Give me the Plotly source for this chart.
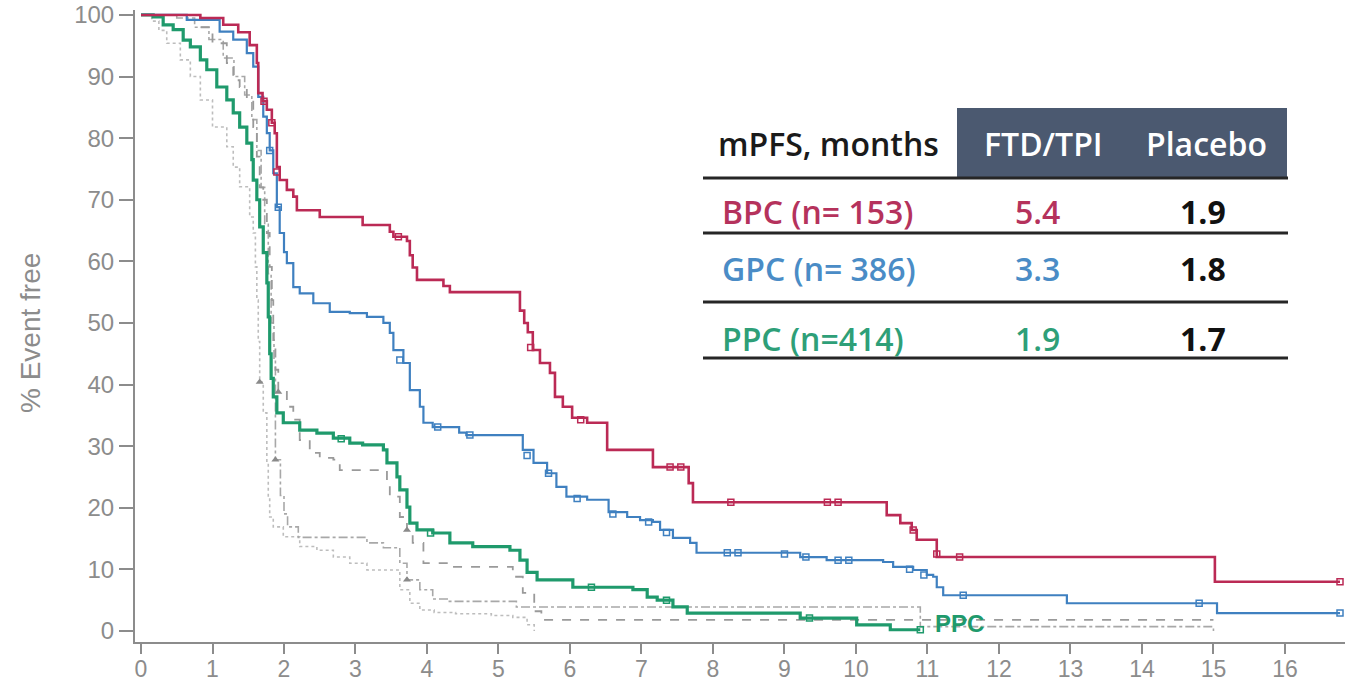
import plotly.graph_objects as go

# ---------------- data ----------------
months_ticks = list(range(0, 17))
pct_ticks = list(range(0, 101, 10))

# FTD/TPI curves (Kaplan-Meier steps: time, % event free)
bpc_t = [0, 0.83, 1.15, 1.36, 1.52, 1.62, 1.64, 1.70, 1.76, 1.83, 1.87, 1.90, 1.94, 2.04, 2.13, 2.18,
         2.50, 3.10, 3.48, 3.53, 3.72, 3.76, 3.80, 3.86, 4.23, 4.32, 5.30, 5.36, 5.41, 5.48, 5.58, 5.72,
         5.79, 5.90, 6.03, 6.24, 6.52, 7.16, 7.66, 7.72, 10.43, 10.62, 10.78, 10.85, 11.13, 15.02, 16.77]
bpc_s = [100, 99.5, 98.4, 97.2, 95.1, 92.2, 87.3, 86.0, 84.6, 82.5, 80.8, 75.3, 73.2, 71.6, 70.5, 68.3,
         67.2, 65.9, 64.8, 64.0, 63.3, 61.0, 59.0, 57.0, 56.0, 55.0, 52.0, 50.0, 48.5, 45.6, 43.5, 41.9,
         38.0, 36.4, 34.6, 33.8, 29.4, 26.6, 24.0, 20.9, 18.8, 17.5, 16.4, 14.8, 12.0, 8.0, 8.0]

gpc_t = [0, 0.64, 1.10, 1.29, 1.48, 1.57, 1.64, 1.71, 1.76, 1.80, 1.85, 1.90, 1.94, 2.00, 2.04, 2.13,
         2.22, 2.41, 2.64, 2.92, 3.16, 3.39, 3.48, 3.53, 3.67, 3.76, 3.90, 3.95, 4.08, 4.45, 4.55, 5.34,
         5.49, 5.68, 5.81, 5.95, 6.24, 6.54, 6.80, 6.98, 7.16, 7.26, 7.44, 7.68, 7.77, 9.22, 9.59, 10.38,
         10.52, 10.80, 10.99, 11.08, 11.13, 11.22, 12.95, 15.05, 16.77]
gpc_s = [100, 99.2, 97.3, 96.0, 93.8, 91.6, 86.7, 83.5, 80.8, 78.0, 74.3, 68.8, 64.6, 61.5, 59.7, 55.8,
         54.8, 53.2, 51.8, 51.6, 51.0, 50.0, 48.4, 45.6, 43.5, 39.1, 36.4, 33.8, 33.1, 32.2, 31.8, 29.4,
         27.3, 25.6, 23.4, 21.8, 21.3, 19.3, 18.5, 18.0, 17.7, 16.4, 15.1, 14.3, 12.7, 12.0, 11.5, 11.2,
         10.4, 9.9, 9.1, 8.8, 7.1, 5.8, 4.5, 2.9, 2.9]

ppc_t = [0, 0.17, 0.31, 0.45, 0.59, 0.69, 0.83, 0.92, 1.06, 1.20, 1.29, 1.38, 1.48, 1.55, 1.57, 1.62,
         1.66, 1.71, 1.76, 1.78, 1.80, 1.82, 1.85, 1.90, 1.99, 2.22, 2.46, 2.69, 2.92, 3.10, 3.39, 3.44,
         3.58, 3.62, 3.72, 3.76, 3.86, 4.08, 4.32, 4.64, 5.16, 5.30, 5.40, 5.54, 6.04, 6.88, 7.08, 7.22,
         7.44, 7.64, 9.22, 10.01, 10.48, 10.90]
ppc_s = [100, 99.7, 98.4, 97.6, 95.9, 94.8, 92.7, 91.1, 88.3, 86.2, 84.1, 81.8, 79.2, 76.5, 73.2, 70.0,
         65.6, 61.4, 56.5, 51.0, 45.0, 41.0, 38.0, 35.4, 33.8, 32.6, 32.1, 31.3, 30.5, 30.2, 29.4, 27.3,
         25.0, 22.9, 20.1, 17.5, 16.4, 15.9, 14.3, 13.7, 13.1, 11.5, 9.5, 8.3, 7.1, 6.7, 5.5, 5.0,
         3.9, 2.9, 2.1, 1.0, 0.2, 0.2]

# Placebo curves (grey)
pla_a_t = [0, 0.69, 0.83, 1.00, 1.20, 1.29, 1.38, 1.48, 1.57, 1.62, 1.66, 1.71, 1.76, 1.80, 1.83, 1.85,
           1.88, 1.92, 2.04, 2.13, 2.22, 2.36, 2.50, 2.69, 2.78, 3.44, 3.48, 3.62, 3.72, 3.80, 3.95, 4.32,
           5.20, 5.34, 5.50, 5.60, 15.0]
pla_a_s = [100, 99.2, 98.0, 95.4, 92.2, 89.4, 88.3, 86.2, 81.8, 77.0, 72.0, 70.0, 64.6, 59.1, 53.7, 47.2,
           42.4, 38.8, 36.4, 34.3, 31.0, 28.9, 28.1, 27.8, 26.1, 24.0, 21.8, 18.5, 16.4, 14.3, 11.0, 10.4,
           8.8, 6.2, 3.2, 1.8, 1.8]

pla_b_t = [0, 0.15, 0.25, 0.36, 0.55, 0.69, 0.83, 1.00, 1.20, 1.29, 1.38, 1.52, 1.57, 1.60, 1.62, 1.64,
           1.66, 1.71, 1.76, 1.78, 1.80, 1.85, 1.99, 2.22, 2.46, 2.69, 2.92, 3.16, 3.62, 3.76, 3.90, 4.10,
           4.40, 4.90, 5.20, 5.40, 5.50]
pla_b_s = [100, 99.0, 97.5, 95.4, 92.7, 90.0, 86.2, 81.8, 78.6, 75.3, 72.1, 67.2, 64.6, 59.1, 53.7, 47.0,
           40.4, 35.4, 27.3, 21.8, 18.5, 16.9, 15.3, 13.7, 13.1, 12.0, 11.0, 9.9, 6.7, 4.5, 3.4, 3.0,
           2.8, 2.5, 2.2, 1.0, 0.0]

pla_c_t = [0, 0.50, 0.75, 0.95, 1.15, 1.30, 1.45, 1.55, 1.62, 1.68, 1.73, 1.78, 1.82, 1.86, 1.88, 1.95,
           2.00, 2.05, 2.20, 3.16, 3.39, 3.62, 3.72, 3.90, 4.08, 4.30, 5.25, 10.90, 15.0]
pla_c_s = [100, 99.5, 98.0, 96.0, 93.0, 90.0, 87.0, 83.0, 78.0, 72.0, 66.0, 58.0, 50.0, 44.0, 27.8, 22.0,
           19.0, 16.9, 15.2, 14.3, 13.5, 11.0, 8.3, 6.7, 5.2, 4.8, 3.9, 0.7, 0.0]

# censor marks
bpc_cens_t = [1.72, 1.83, 1.90, 3.60, 5.45, 6.15, 7.40, 7.55, 8.25, 9.60, 9.75, 10.80, 11.13, 11.45, 16.77]
bpc_cens_s = [86.0, 82.5, 74.5, 64.0, 46.0, 34.3, 26.6, 26.6, 20.9, 20.9, 20.9, 16.4, 12.5, 12.0, 8.0]
gpc_cens_t = [1.80, 1.92, 3.62, 4.15, 4.60, 5.40, 5.70, 6.10, 6.60, 7.10, 7.35, 8.20, 8.35, 9.00, 9.30,
              9.75, 9.90, 10.75, 10.95, 11.50, 14.80, 16.77]
gpc_cens_s = [78.0, 68.8, 44.0, 33.1, 31.8, 28.5, 25.6, 21.5, 19.0, 17.7, 16.0, 12.7, 12.7, 12.5, 12.0,
              11.5, 11.5, 10.0, 9.1, 5.8, 4.5, 2.9]
ppc_cens_t = [2.80, 4.05, 6.30, 7.35, 9.35, 10.90]
ppc_cens_s = [31.2, 15.9, 7.1, 5.0, 2.1, 0.2]
pla_tri_t = [1.66, 1.88, 1.92, 3.72, 3.72]
pla_tri_s = [40.4, 27.8, 38.8, 16.4, 8.3]

# table
table_header = ["mPFS, months", "FTD/TPI", "Placebo"]
table_groups = ["BPC (n= 153)", "GPC (n= 386)", "PPC (n=414)"]
table_ftd = ["5.4", "3.3", "1.9"]
table_pla = ["1.9", "1.8", "1.7"]

# ---------------- styling ----------------
RED = "#bb2a55"
BLUE = "#3f80c0"
GREEN = "#1f9a6c"
RED_T = "#b5325c"
BLUE_T = "#4a8cc6"
GREEN_T = "#2e9f78"
AX = "#8c8c8c"
NARROW = "Liberation Sans Narrow, Liberation Sans, Arial, sans-serif"
TBL = "Open Sans, Lato, sans-serif"

W, H = 1345, 681
ML, MR, MT, MB = 135, 0, 10, 39


def px(x):
    return (x - ML) / (W - ML - MR)


def py(y):
    return (H - MB - y) / (H - MT - MB)


fig = go.Figure()

for t, s, col, dash, wdt in [
    (pla_b_t, pla_b_s, "#bdbdbd", "dot", 1.6),
    (pla_c_t, pla_c_s, "#a8a8a8", "dashdot", 1.6),
    (pla_a_t, pla_a_s, "#9a9a9a", "dash", 1.8),
]:
    fig.add_trace(go.Scatter(x=t, y=s, mode="lines", line=dict(color=col, width=wdt, dash=dash, shape="hv"),
                             showlegend=False, hoverinfo="skip"))

fig.add_trace(go.Scatter(x=pla_tri_t, y=pla_tri_s, mode="markers",
                         marker=dict(symbol="triangle-up", size=7, color="#8a8a8a"),
                         showlegend=False, hoverinfo="skip"))

for t, s, col, wdt in [
    (ppc_t, ppc_s, GREEN, 3.2),
    (gpc_t, gpc_s, BLUE, 2.2),
    (bpc_t, bpc_s, RED, 2.6),
]:
    fig.add_trace(go.Scatter(x=t, y=s, mode="lines", line=dict(color=col, width=wdt, shape="hv"),
                             showlegend=False, hoverinfo="skip"))

for t, s, col in [
    (ppc_cens_t, ppc_cens_s, GREEN),
    (gpc_cens_t, gpc_cens_s, BLUE),
    (bpc_cens_t, bpc_cens_s, RED),
]:
    fig.add_trace(go.Scatter(x=t, y=s, mode="markers",
                             marker=dict(symbol="square-open", size=6, color=col, line=dict(width=1.5, color=col)),
                             showlegend=False, hoverinfo="skip"))

# PPC label
fig.add_annotation(x=px(959), y=py(623), xref="paper", yref="paper", text="PPC", showarrow=False,
                   font=dict(family=NARROW, size=24, color=GREEN, weight=700),
                   xanchor="center", yanchor="middle")

# y-axis title
fig.add_annotation(x=px(30), y=py(333), xref="paper", yref="paper", text="% Event free", showarrow=False,
                   textangle=-90, font=dict(family=NARROW, size=28, color=AX),
                   xanchor="center", yanchor="middle")

# ---- table ----
shapes = [
    dict(type="rect", xref="paper", yref="paper", x0=px(957), x1=px(1287), y0=py(177), y1=py(108),
         fillcolor="#4b5970", line=dict(width=0), layer="above"),
]
for ly in [178, 233, 302, 358]:
    shapes.append(dict(type="line", xref="paper", yref="paper", x0=px(703), x1=px(1288), y0=py(ly), y1=py(ly),
                       line=dict(color="#262626", width=3)))
fig.update_layout(shapes=shapes)

TS = 32
fig.add_annotation(x=px(828), y=py(143), xref="paper", yref="paper", text=table_header[0], showarrow=False,
                   font=dict(family=TBL, size=TS, color="#1a1a1a", weight=600), xanchor="center", yanchor="middle")
fig.add_annotation(x=px(1043), y=py(143), xref="paper", yref="paper", text=table_header[1], showarrow=False,
                   font=dict(family=TBL, size=TS, color="white", weight=600), xanchor="center", yanchor="middle")
fig.add_annotation(x=px(1206), y=py(143), xref="paper", yref="paper", text=table_header[2], showarrow=False,
                   font=dict(family=TBL, size=TS, color="white", weight=600), xanchor="center", yanchor="middle")

row_y = [211, 268, 338]
row_col = [RED_T, BLUE_T, GREEN_T]
for g, f, p, yy, c in zip(table_groups, table_ftd, table_pla, row_y, row_col):
    fig.add_annotation(x=px(720), y=py(yy), xref="paper", yref="paper", text=g, showarrow=False,
                       font=dict(family=TBL, size=TS, color=c, weight=600), xanchor="left", yanchor="middle")
    fig.add_annotation(x=px(1037), y=py(yy), xref="paper", yref="paper", text=f, showarrow=False,
                       font=dict(family=TBL, size=TS, color=c, weight=600), xanchor="center", yanchor="middle")
    fig.add_annotation(x=px(1203), y=py(yy), xref="paper", yref="paper", text=p, showarrow=False,
                       font=dict(family=TBL, size=TS, color="#111111", weight=700), xanchor="center", yanchor="middle")

fig.update_layout(
    width=W, height=H,
    margin=dict(l=ML, r=MR, t=MT, b=MB, pad=0, autoexpand=False),
    paper_bgcolor="white", plot_bgcolor="white",
    xaxis=dict(range=[-0.084, 16.84], tickvals=months_ticks, ticktext=[str(v) for v in months_ticks],
               ticks="outside", ticklen=10, tickwidth=2, tickcolor=AX, automargin=False,
               ticklabelstandoff=-5,
               showline=True, linecolor=AX, linewidth=2, showgrid=False, zeroline=False,
               tickfont=dict(family=NARROW, size=23, color=AX)),
    yaxis=dict(range=[-1.79, 100.8], tickvals=pct_ticks, ticktext=[str(v) for v in pct_ticks],
               ticks="outside", ticklen=14, tickwidth=2, tickcolor=AX, automargin=False,
               showline=True, linecolor=AX, linewidth=2, showgrid=False, zeroline=False,
               tickfont=dict(family=NARROW, size=24, color=AX)),
)

fig.write_html("out.html")
